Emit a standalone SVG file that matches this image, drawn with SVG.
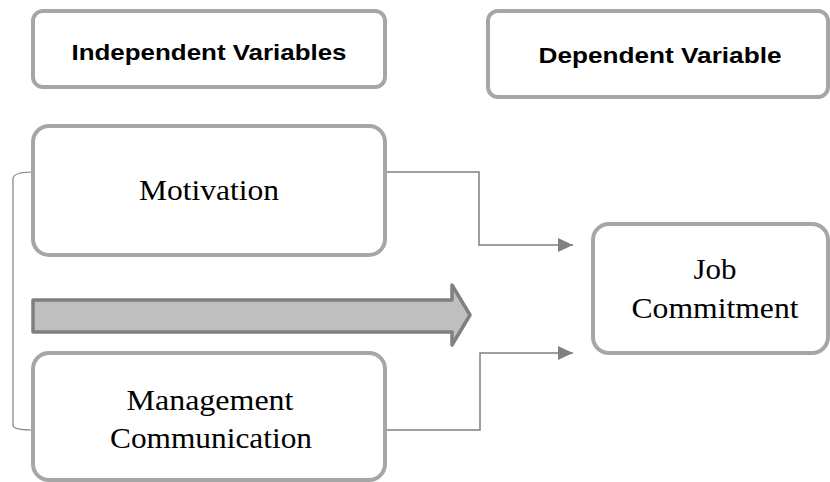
<svg xmlns="http://www.w3.org/2000/svg" width="830" height="482" viewBox="0 0 830 482">
  <defs>
    <style>
      .box { fill: #ffffff; stroke: #a6a6a6; stroke-width: 4; }
      .hdr { font-family: "Liberation Sans", Arial, sans-serif; font-weight: bold; font-size: 22px; fill: #000; text-anchor: middle; }
      .lbl { font-family: "Liberation Serif", "Times New Roman", serif; font-size: 30px; fill: #000; text-anchor: middle; }
      .conn { fill: none; stroke: #808080; stroke-width: 1.5; }
      .brk { fill: none; stroke: #808080; stroke-width: 1.2; }
    </style>
    <marker id="ah" markerWidth="15" markerHeight="14" refX="15" refY="7" orient="auto" markerUnits="userSpaceOnUse" viewBox="0 0 15 14">
      <path d="M0,0 L15,7 L0,14 Z" fill="#808080"/>
    </marker>
  </defs>

  <g id="hdr-independent">
    <rect class="box" x="33" y="11" width="352" height="76" rx="10"/>
    <text class="hdr" x="209" y="60" textLength="275" lengthAdjust="spacingAndGlyphs">Independent Variables</text>
  </g>

  <g id="hdr-dependent">
    <rect class="box" x="488" y="11" width="340" height="86" rx="10"/>
    <text class="hdr" x="660" y="63" textLength="243" lengthAdjust="spacingAndGlyphs">Dependent Variable</text>
  </g>

  <g id="connectors">
    <path class="brk" d="M32,172 Q13,172 13,179 L13,425 Q13,430 32,430"/>
    <polyline class="conn" points="385,172 479,172 479,245 573,245" marker-end="url(#ah)"/>
    <polyline class="conn" points="385,430 480,430 480,353 573,353" marker-end="url(#ah)"/>
    <path id="big-arrow" d="M33,300 L452,300 L452,285 L470,315 L452,345 L452,332 L33,332 Z" fill="#bfbfbf" stroke="#808080" stroke-width="3.5" stroke-linejoin="round"/>
  </g>

  <g id="motivation">
    <rect class="box" x="33" y="126" width="352" height="129" rx="16"/>
    <text class="lbl" x="209" y="200" textLength="140" lengthAdjust="spacingAndGlyphs">Motivation</text>
  </g>

  <g id="management-communication">
    <rect class="box" x="33" y="353" width="352" height="127" rx="16"/>
    <text class="lbl" x="210" y="410" textLength="167" lengthAdjust="spacingAndGlyphs">Management</text>
    <text class="lbl" x="211" y="448" textLength="202" lengthAdjust="spacingAndGlyphs">Communication</text>
  </g>

  <g id="job-commitment">
    <rect class="box" x="593" y="224" width="235" height="129" rx="16"/>
    <text class="lbl" x="715" y="279" textLength="43" lengthAdjust="spacingAndGlyphs">Job</text>
    <text class="lbl" x="715" y="318" textLength="167" lengthAdjust="spacingAndGlyphs">Commitment</text>
  </g>
</svg>
